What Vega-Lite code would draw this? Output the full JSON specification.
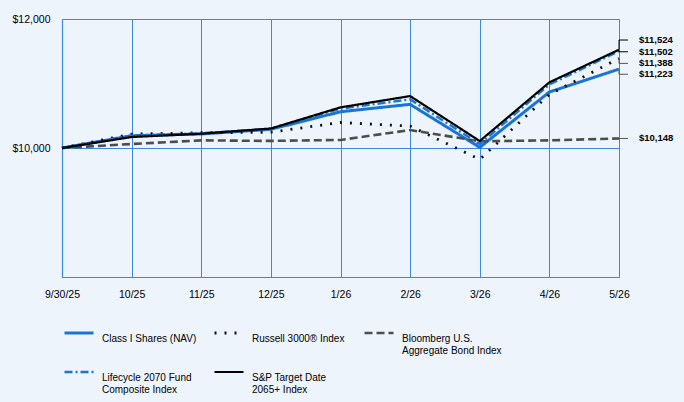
{
  "$schema": "https://vega.github.io/schema/vega-lite/v6.json",
  "width": 557,
  "height": 258,
  "autosize": "none",
  "padding": {"left": 62, "top": 19, "right": 65, "bottom": 125},
  "background": "#EEF4FC",
  "config": {
    "view": {"stroke": null},
    "font": "Liberation Sans",
    "axis": {"labelFont": "Liberation Sans", "labelFontSize": 10.5, "labelColor": "#000000", "ticks": false, "domainColor": "#3B8AD9", "gridColor": "#3B8AD9", "gridOpacity": 1, "gridWidth": 1, "domainWidth": 1.2}
  },
  "datasets": {
    "growth": [
      {"date": "9/30/25", "series": "Class I Shares (NAV)", "value": 10000},
      {"date": "10/25", "series": "Class I Shares (NAV)", "value": 10190},
      {"date": "11/25", "series": "Class I Shares (NAV)", "value": 10217},
      {"date": "12/25", "series": "Class I Shares (NAV)", "value": 10290},
      {"date": "1/26", "series": "Class I Shares (NAV)", "value": 10562},
      {"date": "2/26", "series": "Class I Shares (NAV)", "value": 10677},
      {"date": "3/26", "series": "Class I Shares (NAV)", "value": 10010},
      {"date": "4/26", "series": "Class I Shares (NAV)", "value": 10868},
      {"date": "5/26", "series": "Class I Shares (NAV)", "value": 11223},
      {"date": "9/30/25", "series": "Russell 3000® Index", "value": 10000},
      {"date": "10/25", "series": "Russell 3000® Index", "value": 10215},
      {"date": "11/25", "series": "Russell 3000® Index", "value": 10237},
      {"date": "12/25", "series": "Russell 3000® Index", "value": 10245},
      {"date": "1/26", "series": "Russell 3000® Index", "value": 10395},
      {"date": "2/26", "series": "Russell 3000® Index", "value": 10340},
      {"date": "3/26", "series": "Russell 3000® Index", "value": 9824},
      {"date": "4/26", "series": "Russell 3000® Index", "value": 10830},
      {"date": "5/26", "series": "Russell 3000® Index", "value": 11388},
      {"date": "9/30/25", "series": "Bloomberg U.S. Aggregate Bond Index", "value": 10000},
      {"date": "10/25", "series": "Bloomberg U.S. Aggregate Bond Index", "value": 10062},
      {"date": "11/25", "series": "Bloomberg U.S. Aggregate Bond Index", "value": 10118},
      {"date": "12/25", "series": "Bloomberg U.S. Aggregate Bond Index", "value": 10110},
      {"date": "1/26", "series": "Bloomberg U.S. Aggregate Bond Index", "value": 10125},
      {"date": "2/26", "series": "Bloomberg U.S. Aggregate Bond Index", "value": 10278},
      {"date": "3/26", "series": "Bloomberg U.S. Aggregate Bond Index", "value": 10104},
      {"date": "4/26", "series": "Bloomberg U.S. Aggregate Bond Index", "value": 10118},
      {"date": "5/26", "series": "Bloomberg U.S. Aggregate Bond Index", "value": 10148},
      {"date": "9/30/25", "series": "Lifecycle 2070 Fund Composite Index", "value": 10000},
      {"date": "10/25", "series": "Lifecycle 2070 Fund Composite Index", "value": 10195},
      {"date": "11/25", "series": "Lifecycle 2070 Fund Composite Index", "value": 10228},
      {"date": "12/25", "series": "Lifecycle 2070 Fund Composite Index", "value": 10300},
      {"date": "1/26", "series": "Lifecycle 2070 Fund Composite Index", "value": 10610},
      {"date": "2/26", "series": "Lifecycle 2070 Fund Composite Index", "value": 10754},
      {"date": "3/26", "series": "Lifecycle 2070 Fund Composite Index", "value": 10060},
      {"date": "4/26", "series": "Lifecycle 2070 Fund Composite Index", "value": 10985},
      {"date": "5/26", "series": "Lifecycle 2070 Fund Composite Index", "value": 11502},
      {"date": "9/30/25", "series": "S&P Target Date 2065+ Index", "value": 10000},
      {"date": "10/25", "series": "S&P Target Date 2065+ Index", "value": 10170},
      {"date": "11/25", "series": "S&P Target Date 2065+ Index", "value": 10222},
      {"date": "12/25", "series": "S&P Target Date 2065+ Index", "value": 10302},
      {"date": "1/26", "series": "S&P Target Date 2065+ Index", "value": 10630},
      {"date": "2/26", "series": "S&P Target Date 2065+ Index", "value": 10805},
      {"date": "3/26", "series": "S&P Target Date 2065+ Index", "value": 10108},
      {"date": "4/26", "series": "S&P Target Date 2065+ Index", "value": 11018},
      {"date": "5/26", "series": "S&P Target Date 2065+ Index", "value": 11524}
    ],
    "endLabels": [
      {"date": "5/26", "label": "$11,524", "endValue": 11524, "labelValue": 11674, "leader": "#000000"},
      {"date": "5/26", "label": "$11,502", "endValue": 11502, "labelValue": 11492, "leader": "#000000"},
      {"date": "5/26", "label": "$11,388", "endValue": 11388, "labelValue": 11312, "leader": "#555555"},
      {"date": "5/26", "label": "$11,223", "endValue": 11223, "labelValue": 11143, "leader": "#555555"},
      {"date": "5/26", "label": "$10,148", "endValue": 10148, "labelValue": 10148, "leader": "#555555"}
    ]
  },
  "layer": [
    {
      "data": {"name": "growth"},
      "mark": {"type": "line", "clip": false},
      "encoding": {
        "x": {
          "field": "date",
          "type": "ordinal",
          "scale": {"type": "point", "padding": 0, "domain": ["9/30/25", "10/25", "11/25", "12/25", "1/26", "2/26", "3/26", "4/26", "5/26"]},
          "axis": {"title": null, "grid": true, "labelAngle": 0, "labelPadding": 12, "domain": true}
        },
        "y": {
          "field": "value",
          "type": "quantitative",
          "scale": {"domain": [8000, 12000], "nice": false, "zero": false},
          "axis": {"title": null, "values": [8000, 10000, 12000], "format": "$,.0f", "labelExpr": "datum.value == 8000 ? '' : datum.label", "labelPadding": 12, "domain": true}
        },
        "color": {
          "field": "series",
          "type": "nominal",
          "scale": {
            "domain": ["Class I Shares (NAV)", "Russell 3000® Index", "Bloomberg U.S. Aggregate Bond Index", "Lifecycle 2070 Fund Composite Index", "S&P Target Date 2065+ Index"],
            "range": ["#1A74D4", "#111111", "#4D4D4D", "#1A74D4", "#000000"]
          },
          "legend": {
            "title": null,
            "orient": "none",
            "legendX": 1,
            "legendY": 298,
            "direction": "horizontal",
            "columns": 3,
            "gridAlign": "all",
            "columnPadding": 6,
            "rowPadding": -6,
            "symbolType": "stroke",
            "symbolSize": 840,
            "labelFont": "Liberation Sans",
            "labelFontSize": 10,
            "labelColor": "#000000",
            "labelOffset": 7,
            "labelLimit": 200,
            "labelExpr": "datum.label == 'Bloomberg U.S. Aggregate Bond Index' ? ['Bloomberg U.S.', 'Aggregate Bond Index'] : datum.label == 'Lifecycle 2070 Fund Composite Index' ? ['Lifecycle 2070 Fund', 'Composite Index'] : datum.label == 'S&P Target Date 2065+ Index' ? ['S&P Target Date', '2065+ Index'] : [datum.label, ' ']",
            "encode": {
              "labels": {
                "update": {
                  "dy": {"value": 6}
                }
              }
            }
          }
        },
        "strokeDash": {
          "field": "series",
          "type": "nominal",
          "scale": {
            "domain": ["Class I Shares (NAV)", "Russell 3000® Index", "Bloomberg U.S. Aggregate Bond Index", "Lifecycle 2070 Fund Composite Index", "S&P Target Date 2065+ Index"],
            "range": [[1, 0], [2, 8], [8, 4], [8, 3, 2, 3], [1, 0]]
          },
          "legend": null
        },
        "strokeWidth": {
          "field": "series",
          "type": "nominal",
          "scale": {
            "domain": ["Class I Shares (NAV)", "Russell 3000® Index", "Bloomberg U.S. Aggregate Bond Index", "Lifecycle 2070 Fund Composite Index", "S&P Target Date 2065+ Index"],
            "range": [3, 2.2, 2.5, 2, 1.8]
          },
          "legend": null
        },
        "order": {"value": null}
      }
    },
    {
      "data": {"name": "endLabels"},
      "mark": {"type": "rule", "clip": false, "strokeWidth": 1},
      "encoding": {
        "x": {"field": "date", "type": "ordinal"},
        "x2": {"field": "date"},
        "x2Offset": {"value": 9},
        "y": {"field": "endValue", "type": "quantitative"},
        "y2": {"field": "labelValue"},
        "color": {"field": "leader", "type": "nominal", "scale": null}
      }
    },
    {
      "data": {"name": "endLabels"},
      "mark": {"type": "rule", "clip": false, "strokeWidth": 1},
      "encoding": {
        "x": {"field": "date", "type": "ordinal"},
        "xOffset": {"value": 9},
        "x2": {"field": "date"},
        "x2Offset": {"value": 18},
        "y": {"field": "labelValue", "type": "quantitative"},
        "color": {"field": "leader", "type": "nominal", "scale": null}
      }
    },
    {
      "data": {"name": "endLabels"},
      "mark": {"type": "text", "align": "left", "dx": 20, "font": "Liberation Sans", "fontWeight": "bold", "fontSize": 9.5, "color": "#000000", "clip": false},
      "encoding": {
        "x": {"field": "date", "type": "ordinal"},
        "y": {"field": "labelValue", "type": "quantitative"},
        "text": {"field": "label"}
      }
    }
  ]
}
